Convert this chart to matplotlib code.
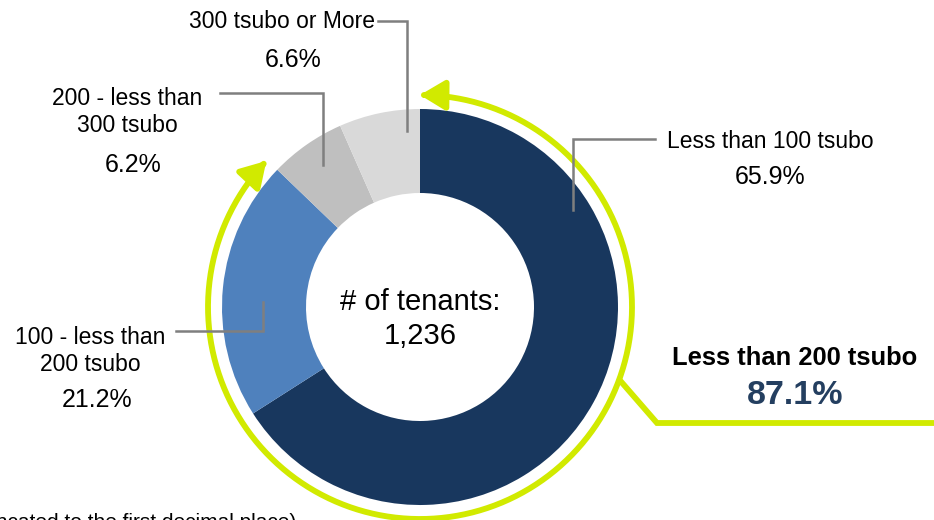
import matplotlib.pyplot as plt
import numpy as np
from matplotlib.patches import FancyArrowPatch
from matplotlib.path import Path

plt.rcParams['font.family'] = ['Liberation Sans', 'DejaVu Sans']

# Данные
labels = ['Less than 100 tsubo', '100 - less than\n200 tsubo',
          '200 - less than\n300 tsubo', '300 tsubo or More']
shares = [65.9, 21.2, 6.2, 6.6]
colors = ['#18375E', '#4F81BD', '#BFBFBF', '#D9D9D9']
total_tenants = 1236
small_group = 'Less than 200 tsubo'

W, H = 934, 520
fig = plt.figure(figsize=(W / 100, H / 100), dpi=100)
ax = fig.add_axes([0, 0, 1, 1])
ax.set_xlim(0, W)
ax.set_ylim(0, H)
ax.set_aspect('equal')
ax.axis('off')

cx, cy = 420, H - 307
R, ring = 198, 84

ax.pie(shares, colors=colors, startangle=90, counterclock=False,
       center=(cx, cy), radius=R, wedgeprops=dict(width=ring, linewidth=0))
ax.set_xlim(0, W)
ax.set_ylim(0, H)

# центр
ax.text(cx, H - 319, f'# of tenants:\n{total_tenants:,}', ha='center', va='center',
        fontsize=21, linespacing=1.3)

# зелёная дуга со стрелками
lime = '#D1EA00'
R2 = 212
a_end = 90 - 360 * sum(shares[:2]) / 100
ang = np.radians(np.linspace(90, a_end, 300))
verts = np.column_stack([cx + R2 * np.cos(ang), cy + R2 * np.sin(ang)])
arc = FancyArrowPatch(path=Path(verts), arrowstyle='<|-|>,head_length=0.75,head_width=0.45',
                      mutation_scale=20, color=lime, lw=4.2)
ax.add_patch(arc)

a_br = np.radians(-20)
bx, by = cx + R2 * np.cos(a_br), cy + R2 * np.sin(a_br)
ax.plot([bx, 657, W + 5], [by, H - 423, H - 423], color=lime, lw=4.2,
        solid_capstyle='butt', solid_joinstyle='miter')

ax.text(795, H - 358, small_group, ha='center', va='center', fontsize=18.4,
        fontweight='bold')
ax.text(795, H - 395, f'{sum(shares[:2]):.1f}%', ha='center', va='center',
        fontsize=24.5, fontweight='bold', color='#243F60')

# подписи и выноски
gray = '#7F7F7F'
leaders = [
    [(573, 210), (573, 139), (655, 139)],
    [(263, 302), (263, 331), (176, 331)],
    [(323, 165), (323, 93), (220, 93)],
    [(407, 131), (407, 21), (378, 21)],
]
for pts in leaders:
    xs = [p[0] for p in pts]
    ys = [H - p[1] for p in pts]
    ax.plot(xs, ys, color=gray, lw=1.8, solid_joinstyle='miter')

label_pos = [(770, 142), (90, 351), (127, 112), (282, 21)]
pct_pos = [(770, 177), (97, 400), (133, 165), (293, 60)]
for lab, v, (lx, ly), (px, py) in zip(labels, shares, label_pos, pct_pos):
    ax.text(lx, H - ly, lab, ha='center', va='center', fontsize=16.5, linespacing=1.2)
    ax.text(px, H - py, f'{v:.1f}%', ha='center', va='center', fontsize=18)

ax.text(296, -8, '(Figures are truncated to the first decimal place)', ha='right',
        va='baseline', fontsize=15)

fig.savefig('out.png', dpi=100)
